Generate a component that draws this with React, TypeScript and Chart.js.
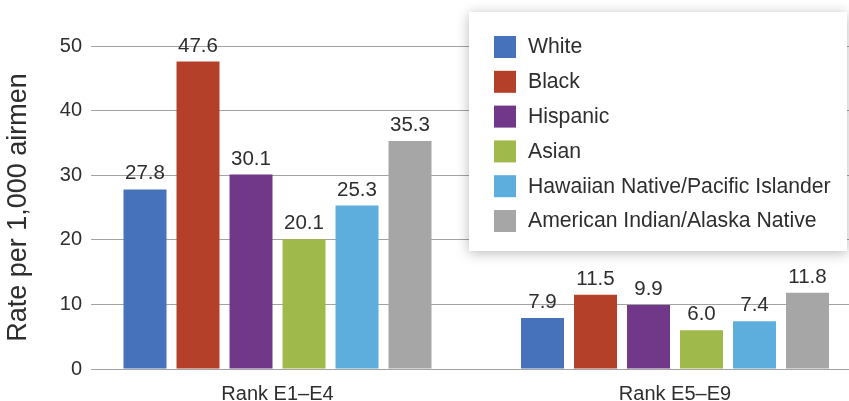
import React, { useEffect, useRef } from "react";
import { Chart, registerables } from "chart.js";

Chart.register(...registerables);

const CATEGORIES = ["Rank E1–E4", "Rank E5–E9"];
const SERIES = [
  "White",
  "Black",
  "Hispanic",
  "Asian",
  "Hawaiian Native/Pacific Islander",
  "American Indian/Alaska Native",
];
const WHITE = [27.8, 7.9];
const BLACK = [47.6, 11.5];
const HISPANIC = [30.1, 9.9];
const ASIAN = [20.1, 6.0];
const HAWAIIAN = [25.3, 7.4];
const AM_INDIAN = [35.3, 11.8];
const VALUES = [WHITE, BLACK, HISPANIC, ASIAN, HAWAIIAN, AM_INDIAN];
const COLORS = ["#4572BA", "#B5402A", "#71388A", "#9FB94B", "#5DAEDC", "#A6A6A6"];
const Y_TICKS = [0, 10, 20, 30, 40, 50];
const Y_TITLE = "Rate per 1,000 airmen";

const FONT = "'Liberation Sans', Arimo, Arial, sans-serif";
const TEXT = "#2e2e2e";
const GRID = "#a3a3a3";

const valueLabels = {
  id: "valueLabels",
  afterDatasetsDraw(chart: any) {
    const ctx = chart.ctx;
    ctx.save();
    ctx.font = `20.5px ${FONT}`;
    ctx.fillStyle = TEXT;
    ctx.textAlign = "center";
    ctx.textBaseline = "alphabetic";
    chart.data.datasets.forEach((ds: any, i: number) => {
      const meta = chart.getDatasetMeta(i);
      meta.data.forEach((el: any, j: number) => {
        const v = ds.data[j].y;
        ctx.fillText(v.toFixed(1), el.x, el.y - 10);
      });
    });
    ctx.restore();
  },
};

const boxLegend = {
  id: "boxLegend",
  afterDraw(chart: any) {
    const ctx = chart.ctx;
    const bx = 469, by = 12, bw = 378, bh = 239;
    ctx.save();
    ctx.shadowColor = "rgba(0,0,0,0.28)";
    ctx.shadowBlur = 12;
    ctx.shadowOffsetX = 0;
    ctx.shadowOffsetY = 2;
    ctx.fillStyle = "#ffffff";
    ctx.fillRect(bx, by, bw, bh);
    ctx.restore();
    ctx.save();
    ctx.font = `21.2px ${FONT}`;
    ctx.textAlign = "left";
    ctx.textBaseline = "middle";
    chart.data.datasets.forEach((ds: any, i: number) => {
      const cy = 47 + i * 34.8;
      ctx.fillStyle = ds.backgroundColor;
      ctx.fillRect(494, cy - 11, 22, 22);
      ctx.fillStyle = TEXT;
      ctx.fillText(ds.label, 528, cy + 0.5);
    });
    ctx.restore();
  },
};

export default function App() {
  const ref = useRef<HTMLCanvasElement | null>(null);
  useEffect(() => {
    if (!ref.current) return;
    const chart = new Chart(ref.current, {
      type: "bar",
      data: {
        datasets: SERIES.map((name, i) => ({
          label: name,
          data: CATEGORIES.map((_, j) => ({ x: j, y: VALUES[i][j] })),
          backgroundColor: COLORS[i],
          borderWidth: 0,
          categoryPercentage: 0.8,
          barPercentage: 0.811,
        })),
      },
      options: {
        animation: false,
        responsive: false,
        devicePixelRatio: 1,
        layout: { padding: { top: 46, left: 0, right: 0, bottom: 0 } },
        plugins: { legend: { display: false }, tooltip: { enabled: false } },
        scales: {
          x: {
            type: "linear",
            min: -0.4692,
            max: 1.4377,
            offset: false,
            grid: { display: false, offset: false },
            border: { display: true, color: GRID, width: 1 },
            afterBuildTicks: (s: any) => {
              s.ticks = CATEGORIES.map((_, i) => ({ value: i }));
            },
            afterFit: (s: any) => {
              s.height = 32;
            },
            ticks: {
              autoSkip: false,
              maxRotation: 0,
              padding: 5,
              color: TEXT,
              font: { family: FONT, size: 20 },
              callback: (v: any) => CATEGORIES[v] ?? "",
            },
          },
          y: {
            min: 0,
            max: 50,
            afterBuildTicks: (s: any) => {
              s.ticks = Y_TICKS.map((v) => ({ value: v }));
            },
            afterFit: (s: any) => {
              s.width = 91;
            },
            grid: { color: GRID, lineWidth: 1, drawTicks: false },
            border: { display: false },
            ticks: {
              padding: 9,
              color: TEXT,
              font: { family: FONT, size: 20 },
            },
            title: {
              display: true,
              text: Y_TITLE,
              color: TEXT,
              font: { family: FONT, size: 27 },
              padding: { top: 2, bottom: 0 },
            },
          },
        },
      },
      plugins: [valueLabels, boxLegend],
    });
    return () => chart.destroy();
  }, []);
  return (
    <div style={{ position: "fixed", left: 0, top: 0, width: 849, height: 401, background: "#fff" }}>
      <canvas ref={ref} width={849} height={401} style={{ display: "block" }} />
    </div>
  );
}
